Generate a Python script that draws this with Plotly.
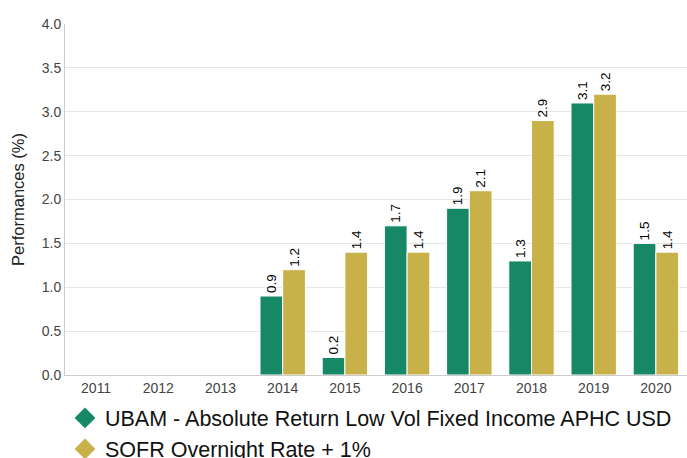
import plotly.graph_objects as go

years = ["2011", "2012", "2013", "2014", "2015", "2016", "2017", "2018", "2019", "2020"]
fund = [None, None, None, 0.9, 0.2, 1.7, 1.9, 1.3, 3.1, 1.5]
bench = [None, None, None, 1.2, 1.4, 1.4, 2.1, 2.9, 3.2, 1.4]
fund_name = "UBAM - Absolute Return Low Vol Fixed Income APHC USD"
bench_name = "SOFR Overnight Rate + 1%"
green = "#168866"
gold = "#c8b148"

def lab(v):
    return ["" if x is None else f"{x:.1f}" for x in v]

fig = go.Figure()
fig.add_trace(go.Bar(x=years, y=fund, marker=dict(color=green, line=dict(color="white", width=1)),
                     text=lab(fund), textposition="outside", textangle=-90,
                     textfont=dict(size=13.5, color="black"), cliponaxis=False,
                     showlegend=False))
fig.add_trace(go.Bar(x=years, y=bench, marker=dict(color=gold, line=dict(color="white", width=1)),
                     text=lab(bench), textposition="outside", textangle=-90,
                     textfont=dict(size=13.5, color="black"), cliponaxis=False,
                     showlegend=False))
fig.add_trace(go.Scatter(x=[None], y=[None], mode="markers", name=fund_name,
                         marker=dict(symbol="diamond", color=green, size=16)))
fig.add_trace(go.Scatter(x=[None], y=[None], mode="markers", name=bench_name,
                         marker=dict(symbol="diamond", color=gold, size=16)))

fig.update_layout(
    width=687, height=458,
    margin=dict(l=65, r=0, t=24, b=83, autoexpand=False),
    paper_bgcolor="white", plot_bgcolor="white",
    barmode="group", bargap=0.27, bargroupgap=0,
    font=dict(family="Arial, Liberation Sans, sans-serif", color="#333"),
    xaxis=dict(type="category", showline=True, linecolor="#ccc", linewidth=1,
               tickfont=dict(size=14, color="#444"), ticks="", showgrid=False),
    yaxis=dict(range=[0, 4], dtick=0.5, tickformat=".1f", showline=True, linecolor="#ccc",
               gridcolor="#e6e6e6", zeroline=False,
               tickfont=dict(size=14, color="#444"),
               title=dict(text="Performances (%)", font=dict(size=16.5, color="#222"), standoff=12)),
    legend=dict(orientation="v", x=0.0, y=-0.064, xanchor="left", yanchor="top",
                font=dict(size=21.5, color="#111"), itemsizing="trace",
                tracegroupgap=0, bgcolor="rgba(0,0,0,0)"),
)
fig.write_html("out.html", config={"displayModeBar": False},
               post_script="document.body.style.margin='0';")
